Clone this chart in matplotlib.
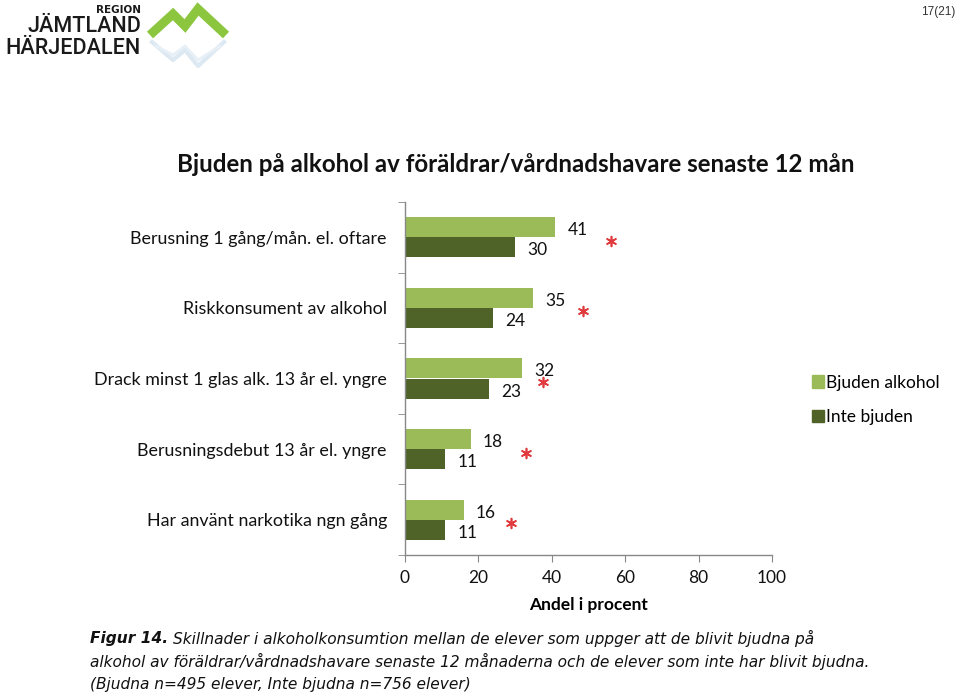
import matplotlib
matplotlib.use('Agg')
import matplotlib.pyplot as plt
from matplotlib.patches import Patch
import numpy as np

# data
categories = ['Berusning 1 gång/mån. el. oftare',
              'Riskkonsument av alkohol',
              'Drack minst 1 glas alk. 13 år el. yngre',
              'Berusningsdebut 13 år el. yngre',
              'Har använt narkotika ngn gång']
bjuden = [41, 35, 32, 18, 16]
inte_bjuden = [30, 24, 23, 11, 11]
star_x = [56, 48.5, 37.5, 33, 29]   # where the red asterisks sit
xticks = [0, 20, 40, 60, 80, 100]

c_light = '#9BBB59'
c_dark = '#4F6228'
c_red = '#E03A3E'
font = 'Lato'

fig = plt.figure(figsize=(9.6, 6.99), dpi=100)
W, H = 960, 699

def fx(px):
    return px / W

def fy(py):
    return 1 - py / H

ax = fig.add_axes([fx(405), fy(555), fx(772) - fx(405), fy(202) - fy(555)])

n = len(categories)
y = np.arange(n)
bh = 0.285
ax.barh(y - bh / 2, bjuden, height=bh, color=c_light, zorder=2)
ax.barh(y + bh / 2, inte_bjuden, height=bh, color=c_dark, zorder=2)
ax.set_ylim(n - 0.5, -0.5)
ax.set_xlim(0, 100)

for i in range(n):
    ax.annotate(str(bjuden[i]), (bjuden[i], y[i] - bh / 2), xytext=(12, -3),
                textcoords='offset pixels', va='center', ha='left',
                fontsize=12.5, family=font, color='#111111')
    ax.annotate(str(inte_bjuden[i]), (inte_bjuden[i], y[i] + bh / 2), xytext=(12, -3),
                textcoords='offset pixels', va='center', ha='left',
                fontsize=12.5, family=font, color='#111111')
ax.scatter(star_x, y + 0.05, marker=(6, 2, 0), s=50, color=c_red, linewidths=1.2, zorder=3)

ax.set_yticks(y)
ax.set_yticklabels(categories, family=font, fontsize=12.9, color='#111111')
ax.set_yticks(np.arange(n + 1) - 0.5, minor=True)
ax.tick_params(axis='y', which='major', length=0, pad=13)
ax.tick_params(axis='y', which='minor', length=5, color='#888888', direction='out')
ax.set_xticks(xticks)
ax.set_xticklabels([str(t) for t in xticks], family=font, fontsize=12.5, color='#111111')
ax.tick_params(axis='x', length=5, color='#888888', direction='out', pad=6)
ax.set_xlabel('Andel i procent', family=font, fontsize=12.5, fontweight='bold', labelpad=8)
for s in ['top', 'right']:
    ax.spines[s].set_visible(False)
for s in ['left', 'bottom']:
    ax.spines[s].set_color('#888888')
    ax.spines[s].set_linewidth(1)

# legend
handles = [Patch(color=c_light, label='Bjuden alkohol'),
           Patch(color=c_dark, label='Inte bjuden')]
fig.legend(handles=handles, loc='upper left', bbox_to_anchor=(fx(796), fy(359)),
           frameon=False, handlelength=0.7, handleheight=0.7, handletextpad=0.15,
           labelspacing=1.05, prop={'family': font, 'size': 12.5})

# title
fig.text(fx(516), fy(164), 'Bjuden på alkohol av föräldrar/vårdnadshavare senaste 12 mån',
         ha='center', va='center', family=font, fontweight='bold', fontsize=17.4, color='#111111')

# page number
fig.text(fx(955), fy(12), '17(21)', ha='right', va='center', fontsize=8.5,
         family='Liberation Sans', color='#333333')

# logo
fig.text(fx(141), fy(10), 'REGION', ha='right', va='center', fontsize=7.5,
         fontweight='bold', family='DejaVu Sans', color='#1a1a1a')
fig.text(fx(141), fy(27), 'JÄMTLAND', ha='right', va='center', fontsize=15.5,
         family='Roboto', fontweight='medium', color='#1a1a1a')
fig.text(fx(141), fy(48), 'HÄRJEDALEN', ha='right', va='center', fontsize=15.5,
         family='Roboto', fontweight='medium', color='#1a1a1a')
lax = fig.add_axes([0, 0, 1, 1], zorder=-1)
lax.set_xlim(0, W)
lax.set_ylim(H, 0)
lax.axis('off')
lax.plot([150, 173, 185, 198, 226], [35, 14, 26, 9, 35], color='#8CC63F',
         lw=6.5, solid_joinstyle='miter', solid_capstyle='butt')
lax.plot([152, 173, 185, 198, 224], [42, 60, 50, 66, 42], color='#DCE8F2', lw=3)
lax.plot([156, 173, 185, 198, 220], [46, 55, 46, 60, 46], color='#E8F0F7', lw=2)

# caption
csize = 11.1
cap = fig.text(fx(90), fy(638), 'Figur 14.', ha='left', va='center', fontsize=csize,
               family='DejaVu Sans', fontweight='bold', style='italic', color='#111111')
fig.canvas.draw()
bb = cap.get_window_extent()
fig.text(bb.x1 / W + fx(5), fy(638),
         'Skillnader i alkoholkonsumtion mellan de elever som uppger att de blivit bjudna på',
         ha='left', va='center', fontsize=csize, family='DejaVu Sans', style='italic', color='#111111')
fig.text(fx(90), fy(661),
         'alkohol av föräldrar/vårdnadshavare senaste 12 månaderna och de elever som inte har blivit bjudna.',
         ha='left', va='center', fontsize=csize, family='DejaVu Sans', style='italic', color='#111111')
fig.text(fx(90), fy(685), '(Bjudna n=495 elever, Inte bjudna n=756 elever)',
         ha='left', va='center', fontsize=csize, family='DejaVu Sans', style='italic', color='#111111')

fig.savefig('out.png', dpi=100)
